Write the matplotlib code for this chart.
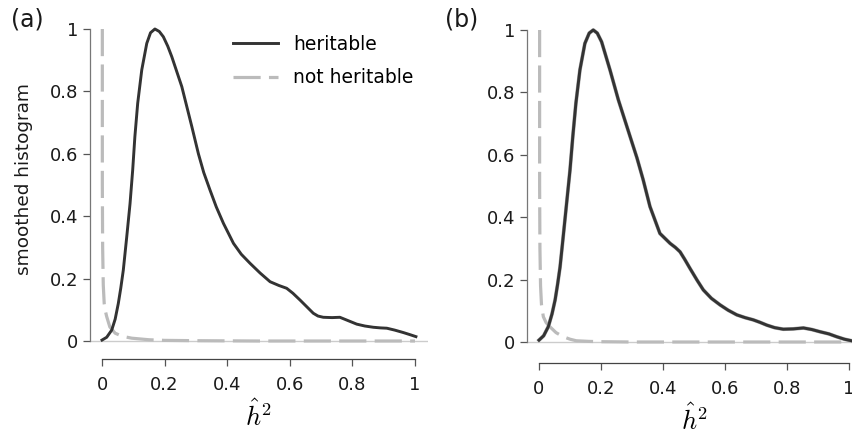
import numpy as np
import matplotlib
matplotlib.use("Agg")
import matplotlib.pyplot as plt

plt.rcParams['font.family'] = ['DejaVu Sans']
plt.rcParams['mathtext.fontset'] = 'cm'

# panel (a) values
a_her_x = [0.0, 0.015, 0.031, 0.042, 0.052, 0.06, 0.068, 0.079, 0.0895, 0.098, 0.105, 0.114,
           0.127, 0.143, 0.155, 0.169, 0.183, 0.196, 0.21, 0.223, 0.255, 0.287, 0.308,
           0.325, 0.345, 0.365, 0.388, 0.42, 0.445, 0.473, 0.505, 0.537, 0.565, 0.59,
           0.61, 0.633, 0.655, 0.675, 0.69, 0.707, 0.735, 0.76, 0.787, 0.814, 0.84, 0.867,
           0.89, 0.91, 0.935, 0.963, 0.985, 1.003]
a_her_y = [0.003, 0.012, 0.035, 0.07, 0.12, 0.17, 0.227, 0.334, 0.44, 0.548, 0.655, 0.762,
           0.869, 0.954, 0.988, 1.0, 0.992, 0.975, 0.945, 0.911, 0.815, 0.687, 0.60,
           0.54, 0.484, 0.43, 0.377, 0.313, 0.278, 0.249, 0.218, 0.19, 0.178, 0.169,
           0.153, 0.131, 0.109, 0.089, 0.08, 0.076, 0.075, 0.076, 0.065, 0.054, 0.048, 0.044,
           0.042, 0.041, 0.035, 0.027, 0.02, 0.014]
a_not_x = [0.001, 0.001, 0.002, 0.004, 0.007, 0.011, 0.015, 0.025, 0.042, 0.065, 0.095, 0.15,
           0.2, 0.3, 0.5, 0.7, 1.0]
a_not_y = [1.0, 0.5, 0.3, 0.18, 0.12, 0.095, 0.078, 0.045, 0.025, 0.015, 0.009, 0.004,
           0.002, 0.001, 0.0, 0.0, 0.0]

# panel (b)
b_her_x = [0.0, 0.015, 0.03, 0.042, 0.052, 0.06, 0.068, 0.078, 0.089, 0.1, 0.109, 0.119,
           0.132, 0.148, 0.162, 0.175, 0.188, 0.202, 0.229, 0.256, 0.294, 0.316, 0.336,
           0.358, 0.39, 0.423, 0.44, 0.455, 0.47, 0.487, 0.51, 0.53, 0.556, 0.584, 0.61,
           0.638, 0.665, 0.691, 0.713, 0.735, 0.76, 0.788, 0.82, 0.853, 0.88, 0.906, 0.935,
           0.96, 0.985, 1.008]
b_her_y = [0.006, 0.02, 0.049, 0.09, 0.135, 0.185, 0.241, 0.337, 0.444, 0.551, 0.658, 0.765,
           0.872, 0.957, 0.99, 1.0, 0.99, 0.962, 0.872, 0.776, 0.658, 0.59, 0.52,
           0.434, 0.348, 0.316, 0.303, 0.289, 0.265, 0.236, 0.198, 0.167, 0.14, 0.119, 0.102,
           0.087, 0.078, 0.071, 0.063, 0.054, 0.046, 0.041, 0.042, 0.045, 0.04, 0.033, 0.026,
           0.017, 0.009, 0.004]
b_not_x = [0.002, 0.002, 0.003, 0.005, 0.008, 0.014, 0.023, 0.035, 0.055, 0.078, 0.1, 0.12,
           0.16, 0.2, 0.3, 0.5, 0.7, 1.0]
b_not_y = [1.0, 0.5, 0.3, 0.18, 0.12, 0.081, 0.062, 0.049, 0.03, 0.017, 0.009, 0.004,
           0.002, 0.001, 0.0, 0.0, 0.0, 0.0]

ticks = [0, 0.2, 0.4, 0.6, 0.8, 1]
tick_labels = ['0', '0.2', '0.4', '0.6', '0.8', '1']

W, H = 852, 438
fig = plt.figure(figsize=(W / 100, H / 100), dpi=100)

her_col = '#333333'
not_col = '#bbbbbb'
UNIT = 312
YLO, YHI = -0.005, 1.03


def make_axes(left_px, width_px, zero_px, xoff):
    ax = fig.add_axes([left_px / W, (H - zero_px + YLO * UNIT) / H,
                       width_px / W, (YHI - YLO) * UNIT / H])
    ax.set_xlim(-0.04, 1.04)
    ax.set_ylim(YLO, YHI)
    for s in ['top', 'right']:
        ax.spines[s].set_visible(False)
    ax.spines['left'].set_bounds(0, 1)
    ax.spines['bottom'].set_bounds(0, 1)
    ax.spines['bottom'].set_position(('outward', xoff))
    ax.spines['left'].set_color('#777777')
    ax.spines['bottom'].set_color('#444444')
    ax.spines['left'].set_linewidth(0.9)
    ax.spines['bottom'].set_linewidth(0.9)
    ax.set_xticks(ticks)
    ax.set_xticklabels(tick_labels)
    ax.set_yticks(ticks)
    ax.set_yticklabels(tick_labels)
    ax.tick_params(labelsize=13, length=5, width=0.9, color='#555555',
                   labelcolor='#1a1a1a')
    ax.tick_params(axis='x', pad=7)
    ax.tick_params(axis='y', pad=3)
    ax.axhline(0, color='#cccccc', lw=1.0, zorder=1)
    ax.set_xlabel(r'$\hat{h}^2$', fontsize=19, labelpad=5)
    return ax


ax1 = make_axes(89.5, 338, 341, 12)
ax1.plot(a_not_x, a_not_y, color=not_col, lw=2.3, dashes=(8.5, 2.6), label='not heritable',
         clip_on=False, zorder=2)
ax1.plot(a_her_x, a_her_y, color=her_col, lw=2.1, label='heritable', clip_on=False, zorder=3)
ax1.set_ylabel('smoothed histogram', fontsize=13.3, color='#1a1a1a')
ax1.yaxis.set_label_coords(-0.167, 0.508)
h, l = ax1.get_legend_handles_labels()
ax1.legend(h[::-1], l[::-1], loc='upper left', bbox_to_anchor=(233 / W, 1 - 35 / H),
           bbox_transform=fig.transFigure, frameon=False, fontsize=13.5,
           handlelength=2.4, handletextpad=0.8, labelspacing=0.76, borderpad=0,
           borderaxespad=0)

ax2 = make_axes(526.6, 334.8, 342, 14)
ax2.plot(b_not_x, b_not_y, color=not_col, lw=2.3, dashes=(8.5, 2.6), clip_on=False, zorder=2)
ax2.plot(b_her_x, b_her_y, color='#aaaaaa', lw=2.7, clip_on=False, zorder=3)
ax2.plot(b_her_x, b_her_y, color=her_col, lw=2.1, clip_on=False, zorder=4)

fig.text(11 / W, 1 - 27 / H, '(a)', fontsize=17, color='#1a1a1a')
fig.text(445 / W, 1 - 27 / H, '(b)', fontsize=17, color='#1a1a1a')

fig.savefig('out.png', dpi=100)
